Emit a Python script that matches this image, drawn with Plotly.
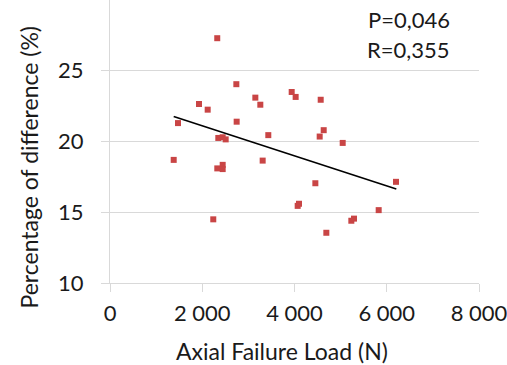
import plotly.graph_objects as go

load_n = [1381, 1474, 1930, 2118, 2239, 2325, 2326, 2348, 2443, 2443, 2443, 2508,
          2739, 2746, 3151, 3259, 3310, 3432, 3939, 4025, 4069, 4098, 4452, 4546,
          4568, 4633, 4690, 5045, 5232, 5290, 5825, 6200]
pct_diff = [18.7, 21.3, 22.65, 22.25, 14.5, 27.3, 18.1, 20.25, 20.3, 18.35, 18.05, 20.15,
            24.05, 21.4, 23.1, 22.6, 18.65, 20.45, 23.5, 23.15, 15.45, 15.6, 17.05, 20.35,
            22.95, 20.8, 13.55, 19.9, 14.4, 14.55, 15.15, 17.15]
trend_x = [1381, 6207]
trend_y = [21.77, 16.64]
x_ticks = [0, 2000, 4000, 6000, 8000]
x_ticklabels = ["0", "2 000", "4 000", "6 000", "8 000"]
y_ticks = [10, 15, 20, 25]
stats_text = ["P=0,046", "R=0,355"]
x_title = "Axial Failure Load (N)"
y_title = "Percentage of difference (%)"

FONT = "Lato"
GRID = "#d9d9d9"
TXT = "#1a1a1a"
L, R, T, B, W, H = 110, 28, 0, 82, 507, 365
PW, PH = W - L - R, H - T - B

fig = go.Figure()
fig.add_trace(go.Scatter(x=load_n, y=pct_diff, mode="markers",
                         marker=dict(symbol="square", size=6, color="#C94545"),
                         showlegend=False))
fig.add_trace(go.Scatter(x=trend_x, y=trend_y, mode="lines",
                         line=dict(color="black", width=1.6), showlegend=False))

fig.update_layout(
    width=W, height=H,
    margin=dict(l=L, r=R, t=T, b=B, autoexpand=False),
    paper_bgcolor="white", plot_bgcolor="white",
    font=dict(family=FONT, size=23, color=TXT),
    xaxis=dict(range=[0, 8000], tickvals=x_ticks, ticktext=x_ticklabels, automargin=False,
               showgrid=False, zeroline=False, showline=True, linecolor=GRID, linewidth=1,
               ticks="outside", ticklen=8, tickcolor=GRID, ticklabelstandoff=3,
               ticklabeloverflow="allow", tickfont=dict(size=22)),
    yaxis=dict(range=[10, 30], tickvals=y_ticks, automargin=False,
               showgrid=True, gridcolor=GRID, gridwidth=1, zeroline=False,
               showline=True, linecolor=GRID, linewidth=1,
               ticks="outside", ticklen=8, tickcolor=GRID, ticklabelstandoff=13,
               tickfont=dict(size=22)),
)
# axis titles placed as in the reference
fig.add_annotation(text=x_title, xref="paper", yref="paper",
                   x=(281.5 - L) / PW, y=-(351 - PH) / PH, xanchor="center", yanchor="middle",
                   showarrow=False, font=dict(family=FONT, size=23, color=TXT))
fig.add_annotation(text=y_title, xref="paper", yref="paper", textangle=-90,
                   x=(28 - L) / PW, y=1 - 167.5 / PH, xanchor="center", yanchor="middle",
                   showarrow=False, font=dict(family=FONT, size=23, color=TXT))
for i, t in enumerate(stats_text):
    fig.add_annotation(text=t, xref="paper", yref="paper", x=(452 - L) / PW,
                       y=1 - (19 + 30 * i) / PH, xanchor="right", yanchor="middle",
                       showarrow=False, font=dict(family=FONT, size=22, color=TXT))

fig.write_html("out.html", config={"displayModeBar": False},
               post_script="document.body.style.margin='0';")
